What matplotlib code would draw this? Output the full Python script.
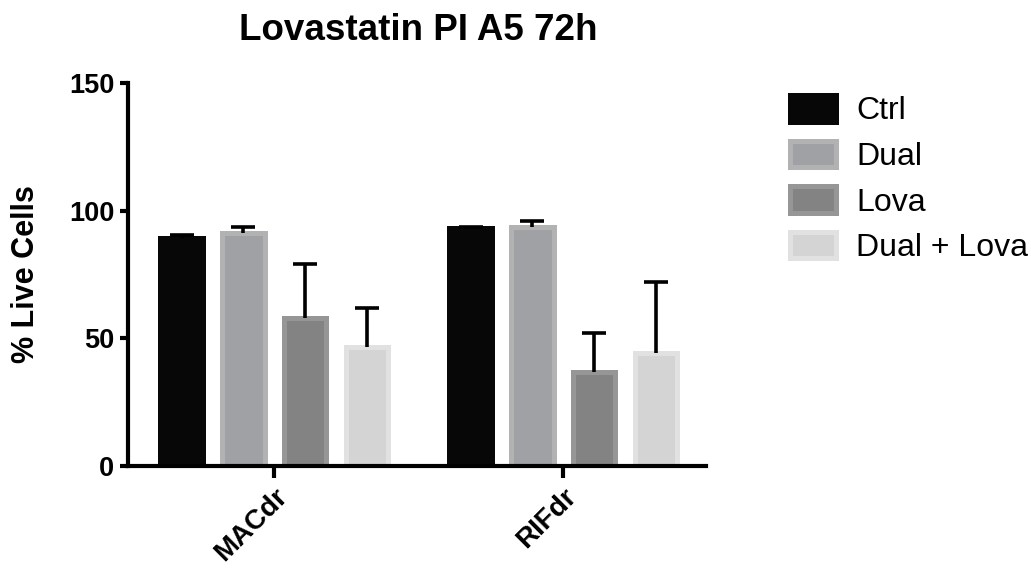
import matplotlib
matplotlib.use("Agg")
import matplotlib.pyplot as plt
import numpy as np

# Data
groups = ["MACdr", "RIFdr"]
series = ["Ctrl", "Dual", "Lova", "Dual + Lova"]
means = {
    "Ctrl": [89.3, 93.1],
    "Dual": [91.1, 93.5],
    "Lova": [57.8, 36.7],
    "Dual + Lova": [46.7, 44.1],
}
errors = {
    "Ctrl": [1.2, 0.5],
    "Dual": [2.6, 2.6],
    "Lova": [21.2, 15.3],
    "Dual + Lova": [15.3, 28.1],
}
fills = {"Ctrl": "#070707", "Dual": "#a0a1a5", "Lova": "#838383", "Dual + Lova": "#d4d4d4"}
edges = {"Ctrl": "#070707", "Dual": "#b2b2b2", "Lova": "#969696", "Dual + Lova": "#e1e1e1"}

plt.rcParams["font.family"] = ["Liberation Sans", "DejaVu Sans"]

fig = plt.figure(figsize=(10.31, 5.71), dpi=100)
ax = fig.add_axes([128 / 1031, 1 - 466 / 571, 578 / 1031, 383 / 571])

x = np.arange(len(groups))
step = 0.2135
width = 0.147
for i, name in enumerate(series):
    pos = x + (i - 1.5) * step
    ax.bar(pos, means[name], width=width, color=fills[name], edgecolor=edges[name],
           linewidth=3.6, label=name, zorder=2)
    # upper error only (Prism style)
    _, caps, _ = ax.errorbar(pos, means[name], yerr=[np.zeros(len(groups)), errors[name]],
                             fmt="none", ecolor="black", elinewidth=2.6, capsize=8.3,
                             capthick=2.6, zorder=3)
    caps[0].set_visible(False)

ax.set_xlim(-0.506, 1.494)
ax.set_ylim(0, 150)
ax.set_yticks([0, 50, 100, 150])
ax.set_xticks(x)
ax.set_xticklabels(groups, rotation=45, ha="right", rotation_mode="anchor",
                   fontsize=20, fontweight="bold")
for lbl in ax.get_yticklabels():
    lbl.set_fontsize(19.5)
    lbl.set_fontweight("bold")

for side in ["top", "right"]:
    ax.spines[side].set_visible(False)
for side in ["left", "bottom"]:
    ax.spines[side].set_linewidth(3.0)
ax.tick_params(axis="y", length=5.8, width=3.0, pad=4)
ax.tick_params(axis="x", length=8.6, width=3.0, pad=4)

ax.set_ylabel("% Live Cells", fontsize=22, fontweight="bold", labelpad=20)
fig.text(418 / 1031, 1 - 30 / 571, "Lovastatin PI A5 72h", fontsize=26.5,
         fontweight="bold", ha="center", va="center")

fig.legend(loc="upper left", bbox_to_anchor=(790 / 1031, 1 - 95 / 571),
           frameon=False, fontsize=23, handlelength=1.45, handleheight=0.9,
           handletextpad=0.62, labelspacing=0.45, borderpad=0, borderaxespad=0)

fig.savefig("out.png", dpi=100)
